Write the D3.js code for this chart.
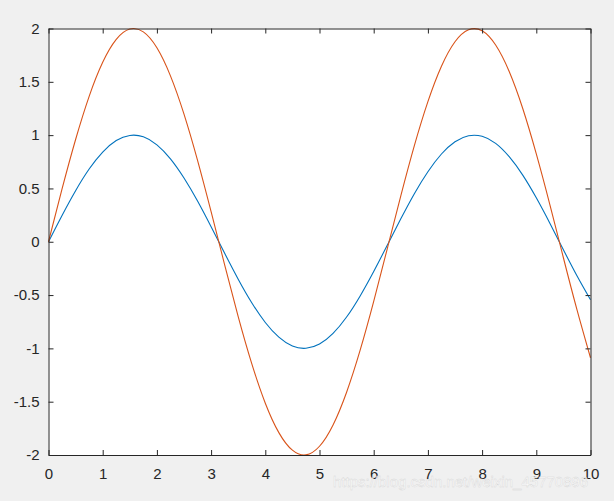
<!DOCTYPE html>
<html>
<head>
<meta charset="utf-8">
<script src="https://cdn.jsdelivr.net/npm/d3@7"></script>
<style>
  html, body { margin: 0; padding: 0; background: #f0f0f0; }
  svg { display: block; }
  .tick text { font-family: "Liberation Sans", Arial, sans-serif; font-size: 15px; fill: #262626; }
</style>
</head>
<body>
<svg id="chart" width="614" height="501"></svg>
<script>
// sample positions along x
var xs = [0, 0.25, 0.5, 0.75, 1, 1.25, 1.5, 1.75, 2, 2.25, 2.5, 2.75, 3, 3.25, 3.5, 3.75,
    4, 4.25, 4.5, 4.75, 5, 5.25, 5.5, 5.75, 6, 6.25, 6.5, 6.75, 7, 7.25, 7.5, 7.75,
    8, 8.25, 8.5, 8.75, 9, 9.25, 9.5, 9.75, 10];

// blue curve
var blueVals = [0, 0.247, 0.479, 0.682, 0.841, 0.949, 0.997, 0.984, 0.909, 0.778, 0.598, 0.382,
    0.141, -0.108, -0.351, -0.572, -0.757, -0.895, -0.978, -0.999, -0.959, -0.859, -0.706,
    -0.508, -0.279, -0.033, 0.215, 0.451, 0.657, 0.823, 0.938, 0.994, 0.989, 0.923, 0.798,
    0.625, 0.412, 0.174, -0.075, -0.319, -0.544];

// orange curve
var orangeVals = [0, 0.495, 0.959, 1.364, 1.683, 1.898, 1.995, 1.968, 1.819, 1.556, 1.197, 0.763,
    0.282, -0.216, -0.702, -1.143, -1.514, -1.790, -1.955, -1.999, -1.918, -1.718, -1.411,
    -1.017, -0.559, -0.066, 0.430, 0.901, 1.314, 1.646, 1.876, 1.988, 1.979, 1.845, 1.597,
    1.250, 0.824, 0.349, -0.150, -0.637, -1.088];

var xTicks = [0, 1, 2, 3, 4, 5, 6, 7, 8, 9, 10];
var yTicks = [-2, -1.5, -1, -0.5, 0, 0.5, 1, 1.5, 2];

var margin = { left: 48.5, right: 590.5, top: 28.5, bottom: 455 };

function drawChart() {
    var svg = d3.select("#chart");

    var x = d3.scaleLinear().domain([0, 10]).range([margin.left, margin.right]);
    var y = d3.scaleLinear().domain([-2, 2]).range([margin.bottom, margin.top]);

    // axes background
    svg.append("rect")
        .attr("x", margin.left).attr("y", margin.top)
        .attr("width", margin.right - margin.left).attr("height", margin.bottom - margin.top)
        .attr("fill", "#ffffff");

    var fmt = function (d) { return String(d); };

    // curves
    var line = d3.line()
        .x(function (d) { return x(d[0]); })
        .y(function (d) { return y(d[1]); })
        .curve(d3.curveNatural);

    var plot = svg.append("g");
    plot.append("path")
        .datum(xs.map(function (v, i) { return [v, blueVals[i]]; }))
        .attr("d", line)
        .attr("fill", "none")
        .attr("stroke", "#0072bd")
        .attr("stroke-width", 1.1);
    plot.append("path")
        .datum(xs.map(function (v, i) { return [v, orangeVals[i]]; }))
        .attr("d", line)
        .attr("fill", "none")
        .attr("stroke", "#d95319")
        .attr("stroke-width", 1.1);

    // bottom axis
    svg.append("g")
        .attr("transform", "translate(0," + margin.bottom + ")")
        .call(d3.axisBottom(x).tickValues(xTicks).tickFormat(fmt)
            .tickSizeInner(-5).tickSizeOuter(0).tickPadding(13));

    // left axis
    svg.append("g")
        .attr("transform", "translate(" + margin.left + ",0)")
        .call(d3.axisLeft(y).tickValues(yTicks).tickFormat(fmt)
            .tickSizeInner(-5).tickSizeOuter(0).tickPadding(9));

    // top axis, ticks only
    svg.append("g")
        .attr("transform", "translate(0," + margin.top + ")")
        .call(d3.axisTop(x).tickValues(xTicks).tickFormat("")
            .tickSizeInner(-5).tickSizeOuter(0));

    // right axis, ticks only
    svg.append("g")
        .attr("transform", "translate(" + margin.right + ",0)")
        .call(d3.axisRight(y).tickValues(yTicks).tickFormat("")
            .tickSizeInner(-5).tickSizeOuter(0));

    svg.selectAll(".domain, .tick line").attr("stroke", "#262626");

    // watermark
    svg.append("text")
        .attr("x", 333).attr("y", 487)
        .attr("font-family", "Liberation Sans, Arial, sans-serif")
        .attr("font-size", 15)
        .attr("fill", "#ffffff")
        .attr("fill-opacity", 0.85)
        .attr("stroke", "#d6d6d6")
        .attr("stroke-width", 0.4)
        .text("https://blog.csdn.net/weixin_45770896");
}

drawChart();
</script>
</body>
</html>
